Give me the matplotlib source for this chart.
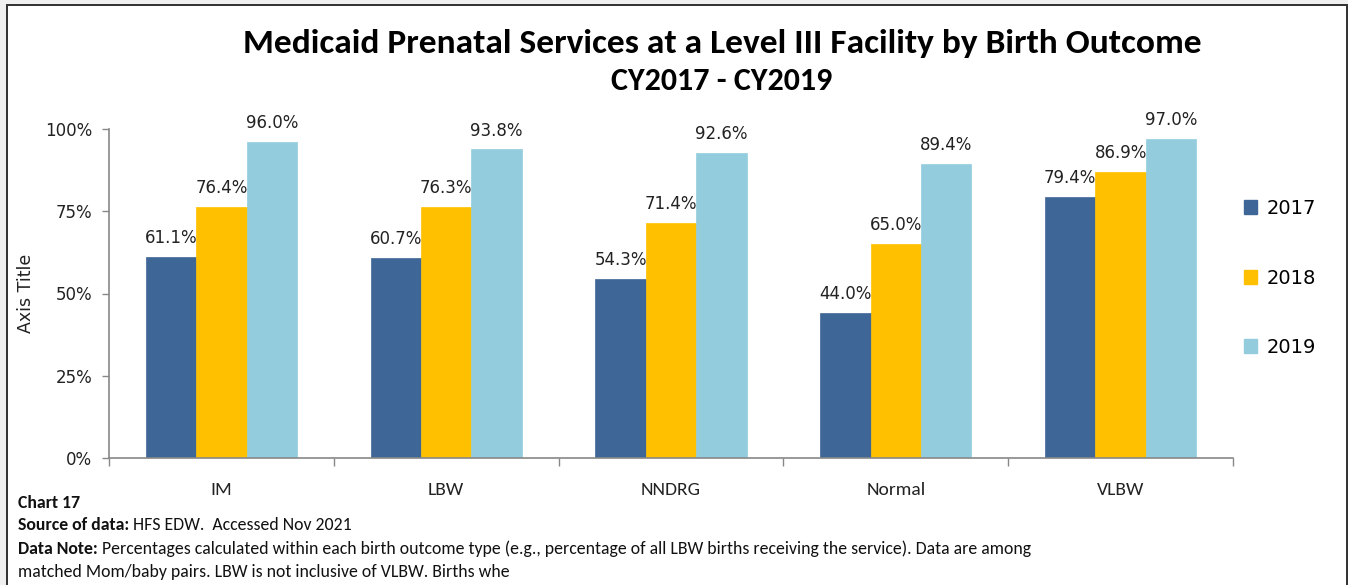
import matplotlib
matplotlib.use("Agg")
import matplotlib.pyplot as plt
from matplotlib import font_manager
from matplotlib.patches import Rectangle, Patch
import numpy as np

categories = ["IM", "LBW", "NNDRG", "Normal", "VLBW"]
years = ["2017", "2018", "2019"]
v2017 = [61.1, 60.7, 54.3, 44.0, 79.4]
v2018 = [76.4, 76.3, 71.4, 65.0, 86.9]
v2019 = [96.0, 93.8, 92.6, 89.4, 97.0]
yticks = [0, 25, 50, 75, 100]
ytick_labels = ["0%", "25%", "50%", "75%", "100%"]
colors = ["#3E6797", "#FFC000", "#93CDDD"]

title1 = "Medicaid Prenatal Services at a Level III Facility by Birth Outcome"
title2 = "CY2017 - CY2019"
foot_chart = "Chart 17"
foot_src_b = "Source of data:"
foot_src = " HFS EDW.  Accessed Nov 2021"
foot_note_b = "Data Note:"
foot_note = " Percentages calculated within each birth outcome type (e.g., percentage of all LBW births receiving the service). Data are among"
foot_note2 = "matched Mom/baby pairs. LBW is not inclusive of VLBW. Births whe"

avail = {f.name for f in font_manager.fontManager.ttflist}
def pick(names):
    for n in names:
        if n in avail:
            return n
    return "DejaVu Sans"
narrow = pick(["Carlito", "Liberation Sans Narrow", "Open Sans", "Roboto"])
verd = "DejaVu Sans"

W, H = 1348, 585
fig = plt.figure(figsize=(W / 100, H / 100), dpi=100)
fig.patch.set_facecolor("#F0F0F0")
fig.patches.append(Rectangle((6.5 / W, -0.05), (1346.5 - 6.5) / W, (H - 4.5) / H + 0.05,
                             transform=fig.transFigure, facecolor="white",
                             edgecolor="#303030", linewidth=1.4, zorder=-5))

ax = fig.add_axes([109 / W, 1 - 458 / H, (1233 - 109) / W, (458 - 129) / H])
ax.set_facecolor("none")
ax.set_zorder(2)
x = np.arange(len(categories))
bw = 0.224
series = [v2017, v2018, v2019]
for i, (vals, c) in enumerate(zip(series, colors)):
    pos = x + (i - 1) * bw
    ax.bar(pos, vals, width=bw, color=c, edgecolor=c, linewidth=0.5, zorder=2)
    for px, v in zip(pos, vals):
        ax.text(px, v + 3.0, f"{v:.1f}%", ha="center", va="bottom",
                fontsize=12, family=verd, color="#222222")

ax.set_xlim(-0.5, len(categories) - 0.5)
ax.set_ylim(0, 100)
ax.set_yticks(yticks)
ax.set_yticklabels(ytick_labels, fontsize=12, family=verd, color="#222222")
ax.set_xticks(x)
ax.set_xticklabels(categories, fontsize=14, family=narrow, color="#222222")
ax.set_xticks(np.arange(len(categories) + 1) - 0.5, minor=True)
ax.tick_params(axis="x", which="major", length=0, pad=17)
ax.tick_params(axis="x", which="minor", length=6, width=1, color="#888888", direction="out")
ax.tick_params(axis="y", length=5, width=1, color="#888888", direction="out", pad=7)
for s in ["top", "right"]:
    ax.spines[s].set_visible(False)
for s in ["left", "bottom"]:
    ax.spines[s].set_color("#888888")
    ax.spines[s].set_linewidth(1.2)
ax.set_ylabel("Axis Title", fontsize=12.5, family=verd, color="#222222", labelpad=7)

handles = [Patch(facecolor=c, edgecolor=c) for c in colors]
fig.legend(handles, years, loc="center left", bbox_to_anchor=(1226 / W, 1 - 278 / H),
           frameon=False, prop={"family": verd, "size": 14},
           handlelength=0.7, handleheight=0.7, handletextpad=0.5, labelspacing=2.6)

fig.text(722 / W, 1 - 43 / H, title1, ha="center", va="center", fontsize=25.5,
         fontweight="bold", family=narrow, color="black")
fig.text(722 / W, 1 - 81 / H, title2, ha="center", va="center", fontsize=23,
         fontweight="bold", family=narrow, color="black")

fig.canvas.draw()
r = fig.canvas.get_renderer()
def mixed(xpx, ypx, bold, normal, size=12.8):
    t = fig.text(xpx / W, 1 - ypx / H, bold, ha="left", va="center", fontsize=size,
                 fontweight="bold", family=narrow, color="#111111")
    wpx = t.get_window_extent(r).width
    if normal:
        fig.text((xpx + wpx) / W, 1 - ypx / H, normal, ha="left", va="center",
                 fontsize=size, family=narrow, color="#111111")

mixed(18, 503, foot_chart, "")
mixed(18, 525, foot_src_b, foot_src)
mixed(18, 549, foot_note_b, foot_note)
mixed(18, 572, "", foot_note2)

fig.savefig("out.png", dpi=100, facecolor=fig.get_facecolor())
